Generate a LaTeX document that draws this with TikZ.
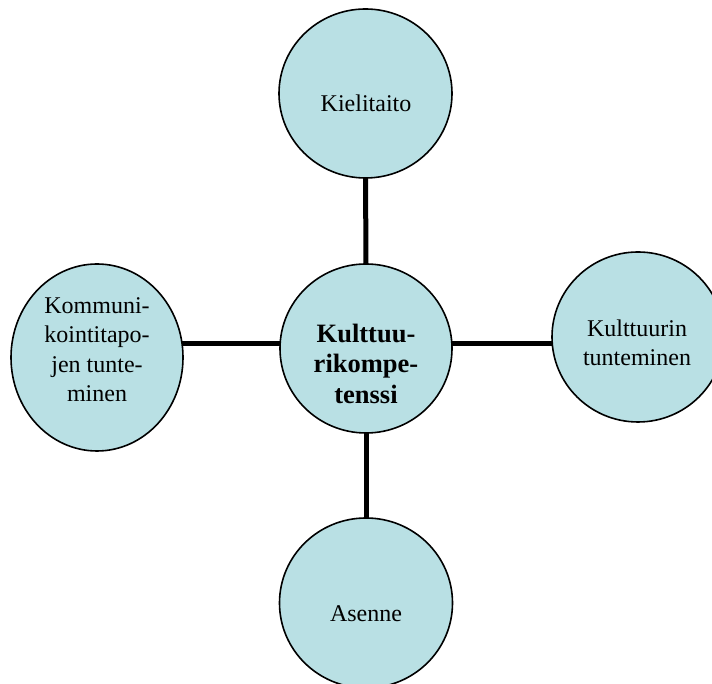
\documentclass[tikz,border=0pt]{standalone}
\usepackage{fontspec}
\setmainfont{Liberation Serif}
\usetikzlibrary{shapes.geometric,backgrounds}
\definecolor{bubble}{RGB}{185,224,228}
\begin{document}
\begin{tikzpicture}[x=1pt,y=1pt,
  bub/.style={ellipse,draw=black,line width=1.6pt,fill=bubble,inner sep=0pt},
  lbl/.style={font={\fontsize{24}{29.3}\selectfont},align=center,inner sep=0pt},
  blbl/.style={font={\fontsize{26.5}{30.5}\selectfont\bfseries},align=center,inner sep=0pt},
  conn/.style={draw=black,line width=5pt}]
\useasboundingbox (0,0) rectangle (712,684);
\clip (0,0) rectangle (712,684);
% shapes
\node[bub,minimum width=173pt,minimum height=169pt] (top) at (365.5,590.5) {};
\node[bub,minimum width=172pt,minimum height=169pt] (hub) at (366,335.5) {};
\node[bub,minimum width=172pt,minimum height=187pt] (left) at (97,326.5) {};
\node[bub,minimum width=172pt,minimum height=170pt] (right) at (638,347) {};
\node[bub,minimum width=173pt,minimum height=170pt] (bottom) at (366,81) {};
\coordinate (hubc) at (366,340);
% connectors behind
\begin{scope}[on background layer]
\draw[conn] (top.center) -- (hub.center);
\draw[conn] (hub.center) -- (bottom.center);
\draw[conn] (left.center |- hubc) -- (hubc);
\draw[conn] (hubc) -- (right.center |- hubc);
\end{scope}
% texts
\node[lbl,anchor=base] (ttop) at (366,572) {Kielitaito};
\node[lbl,anchor=base] (tbottom) at (366,62) {Asenne};
\node[blbl] (thub) at (366,320.4) {Kulttuu-\\rikompe-\\tenssi};
\node[lbl] (tleft) at (97,334.2) {Kommuni-\\kointitapo-\\jen tunte-\\minen};
\node[lbl] (tright) at (637,341.2) {Kulttuurin\\tunteminen};
\end{tikzpicture}
\end{document}
